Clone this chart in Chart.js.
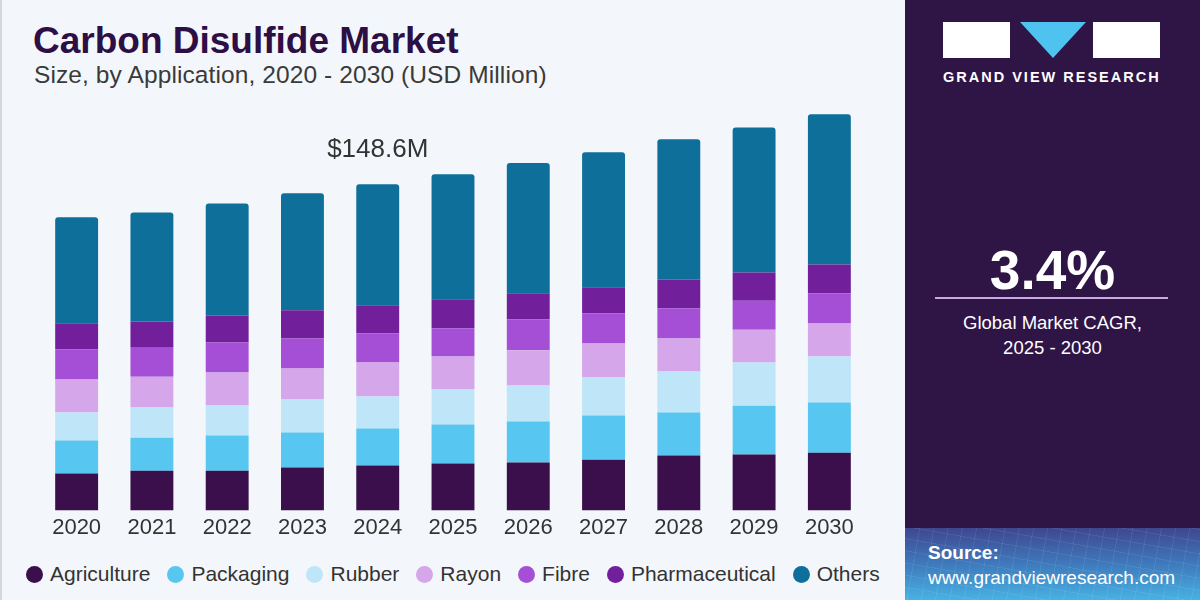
<!DOCTYPE html>
<html>
<head>
<meta charset="utf-8">
<script src="https://cdn.jsdelivr.net/npm/chart.js@4.4.1/dist/chart.umd.min.js"></script>
<style>
    body { margin: 0; width: 1200px; height: 600px; overflow: hidden; font-family: "Liberation Sans", Arial, sans-serif; }
    .left-panel { position: absolute; left: 0; top: 0; width: 905px; height: 600px; background: #f3f7fb; border-left: 2px solid #d4d8dc; box-sizing: border-box; }
    .title { position: absolute; left: 31px; top: 20px; font-size: 37px; font-weight: 900; color: #2d0e45; letter-spacing: 0px; }
    .subtitle { position: absolute; left: 32px; top: 61px; font-size: 24.5px; color: #3a3a3a; letter-spacing: 0.1px; }
    #chartWrap { position: absolute; left: 0; top: 100px; width: 905px; height: 450px; }
    .legend { position: absolute; left: 24px; top: 562px; display: flex; font-size: 21px; color: #333; }
    .legend-item { display: flex; align-items: center; margin-right: 17px; }
    .legend-dot { width: 17px; height: 17px; border-radius: 50%; margin-right: 7px; }
    .right-panel { position: absolute; left: 905px; top: 0; width: 295px; height: 600px; background: #2f1446; }
    .logo-box { position: absolute; top: 22px; height: 36px; background: #fff; }
    .logo-tri { position: absolute; left: 115px; top: 22px; width: 0; height: 0; border-left: 33px solid transparent; border-right: 33px solid transparent; border-top: 36px solid #4fc3f0; }
    .logo-text { position: absolute; left: 38px; top: 69px; font-size: 14.5px; font-weight: bold; color: #fff; letter-spacing: 2px; }
    .cagr { position: absolute; left: 0; width: 295px; top: 238px; text-align: center; font-size: 55px; font-weight: bold; color: #fff; }
    .cagr-line { position: absolute; left: 30px; width: 233px; top: 297px; height: 2px; background: #c9a8e2; }
    .cagr-text { position: absolute; left: 0; width: 295px; top: 310px; text-align: center; font-size: 18.5px; line-height: 25px; color: #fff; }
    .source { position: absolute; left: 0; top: 528px; width: 295px; height: 72px;
        background:
            repeating-linear-gradient(100deg, rgba(255,255,255,0.07) 0 1px, transparent 1px 14px),
            repeating-linear-gradient(10deg, rgba(255,255,255,0.07) 0 1px, transparent 1px 12px),
            linear-gradient(180deg, #3f4690 0%, #3f7fc0 55%, #47b2e4 100%); }
    .source-text { position: absolute; left: 23px; top: 12px; font-size: 19px; line-height: 25px; color: #fff; }
</style>
</head>
<body>
<div class="left-panel">
    <div class="title">Carbon Disulfide Market</div>
    <div class="subtitle">Size, by Application, 2020 - 2030 (USD Million)</div>
    <div id="chartWrap"><canvas id="marketChart"></canvas></div>
    <div class="legend" id="legend"></div>
</div>
<div class="right-panel">
    <div class="logo-box" style="left:38px;width:67px;"></div>
    <div class="logo-tri"></div>
    <div class="logo-box" style="left:188px;width:67px;"></div>
    <div class="logo-text">GRAND VIEW RESEARCH</div>
    <div class="cagr">3.4%</div>
    <div class="cagr-line"></div>
    <div class="cagr-text">Global Market CAGR,<br>2025 - 2030</div>
    <div class="source"><div class="source-text"><b>Source:</b><br>www.grandviewresearch.com</div></div>
</div>
<script>
const years = ['2020', '2021', '2022', '2023', '2024', '2025', '2026', '2027', '2028', '2029', '2030'];
const agriculture    = [16.9, 18.2, 18.2, 19.6, 20.5, 21.4, 21.9, 23.2, 25.1, 25.5, 26.4];
const packaging      = [15.0, 15.0, 16.0, 16.0, 16.9, 17.8, 18.7, 20.1, 19.6, 22.3, 22.8];
const rubber         = [12.8, 13.7, 13.7, 15.0, 14.6, 16.0, 16.4, 17.3, 18.7, 19.6, 21.0];
const rayon          = [15.0, 14.1, 15.0, 14.1, 15.5, 15.0, 16.0, 15.5, 15.0, 15.0, 15.0];
const fibre          = [13.7, 13.2, 13.7, 13.7, 13.2, 12.8, 14.1, 13.7, 13.7, 13.2, 13.7];
const pharmaceutical = [11.9, 11.9, 12.3, 12.8, 12.8, 13.2, 11.9, 11.9, 13.2, 12.8, 13.2];
const others         = [48.3, 49.7, 51.0, 53.3, 55.1, 57.0, 59.3, 61.5, 63.8, 66.1, 68.4];
const highlightIndex = 4;
const highlightLabel = '$148.6M';

const seriesList = [
    { label: 'Agriculture', data: agriculture, color: '#3a0f4b' },
    { label: 'Packaging', data: packaging, color: '#57c6f1' },
    { label: 'Rubber', data: rubber, color: '#bee6f8' },
    { label: 'Rayon', data: rayon, color: '#d5a7ea' },
    { label: 'Fibre', data: fibre, color: '#a54fd7' },
    { label: 'Pharmaceutical', data: pharmaceutical, color: '#711f9b' },
    { label: 'Others', data: others, color: '#0e6f9a' }
];

// legend in html
const legend = document.getElementById('legend');
legend.innerHTML = seriesList.map(s => `
    <div class="legend-item"><span class="legend-dot" style="background:${s.color}"></span>${s.label}</div>
`).join('');

Chart.defaults.font.family = '"Liberation Sans", Arial, sans-serif';

const topLabelPlugin = {
    id: 'topLabel',
    afterDatasetsDraw(chart) {
        const meta = chart.getDatasetMeta(chart.data.datasets.length - 1);
        const bar = meta.data[highlightIndex];
        const ctx = chart.ctx;
        ctx.save();
        ctx.font = '26px "Liberation Sans", Arial, sans-serif';
        ctx.fillStyle = '#333';
        ctx.textAlign = 'center';
        ctx.textBaseline = 'middle';
        ctx.fillText(highlightLabel, bar.x, bar.y - 34);
        ctx.restore();
    }
};

const ctx = document.getElementById('marketChart').getContext('2d');
new Chart(ctx, {
    type: 'bar',
    data: {
        labels: years,
        datasets: seriesList.map((s, i) => ({
            label: s.label,
            data: s.data,
            backgroundColor: s.color,
            borderWidth: 0,
            borderSkipped: false,
            borderRadius: i === seriesList.length - 1 ? { topLeft: 3, topRight: 3, bottomLeft: 0, bottomRight: 0 } : 0,
            barPercentage: 0.57,
            categoryPercentage: 1
        }))
    },
    options: {
        responsive: true,
        maintainAspectRatio: false,
        animation: false,
        layout: { padding: { left: 37, right: 40, top: 0, bottom: 5 } },
        plugins: { legend: { display: false }, tooltip: { enabled: false } },
        scales: {
            x: {
                stacked: true,
                grid: { display: false, drawTicks: false },
                border: { display: false },
                ticks: { color: '#333', font: { size: 22 }, padding: 4 }
            },
            y: {
                stacked: true,
                display: false,
                min: 0,
                max: 187
            }
        }
    },
    plugins: [topLabelPlugin]
});
</script>
</body>
</html>
